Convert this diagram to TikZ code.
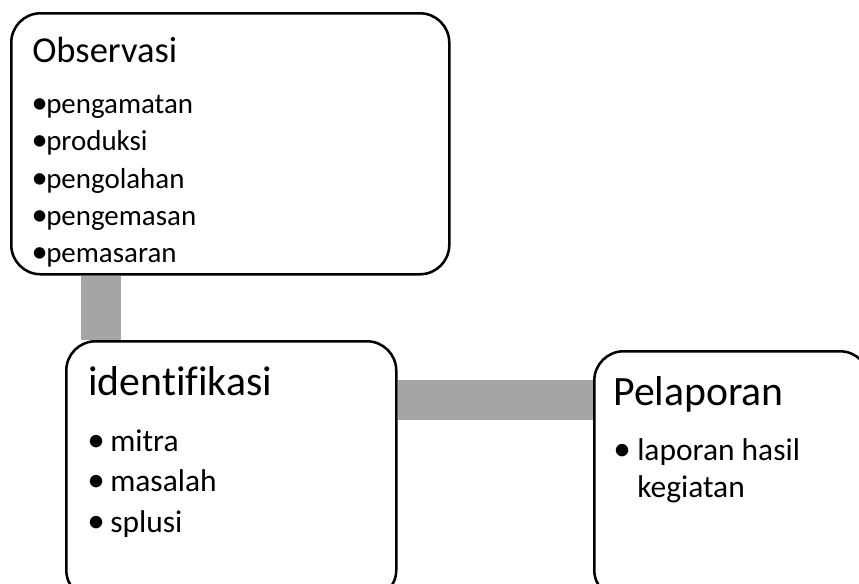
\documentclass[tikz,border=0pt]{standalone}
\usepackage{fontspec}
\setmainfont{Carlito}[Ligatures=NoCommon]
\usetikzlibrary{backgrounds}
\definecolor{bargray}{HTML}{A5A5A5}
\newcommand{\mybul}{\hspace*{-0.06em}\raisebox{-0.02em}{\scalebox{1.12}{•}}}
\begin{document}
\begin{tikzpicture}[x=0.75pt,y=-0.75pt,
  box/.style={draw=black, line width=1.9pt, rounded corners=22pt, fill=white, inner sep=0pt, anchor=north west},
  bar/.style={draw=bargray, line width=30pt},
  txt/.style={anchor=base west, inner sep=0pt},
  ttl/.style={txt, font=\fontsize{27.4}{33}\selectfont},
  ttlb/.style={txt, font=\fontsize{31.3}{37}\selectfont},
  itA/.style={txt, font=\fontsize{21.7}{26}\selectfont},
  itB/.style={txt, font=\fontsize{23.6}{28}\selectfont}]
\useasboundingbox (0,0) rectangle (859,583);
\clip (0,0) rectangle (859,583);
\coordinate (bx) at (101,0);
\coordinate (by) at (0,400);
% boxes
\node[box, minimum width=328.5pt, minimum height=195.75pt] (obs) at (10,12) {};
\node[box, minimum width=247.5pt, minimum height=193.5pt] (ide) at (65,340) {};
\node[box, minimum width=206.25pt, minimum height=186pt] (pel) at (593,350) {};
% connectors
\begin{pgfonlayer}{background}
\draw[bar] (obs.south -| bx) -- (ide.north -| bx);
\draw[bar] (ide.east |- by) -- (pel.west |- by);
\end{pgfonlayer}
% texts box 1
\node[ttl] (obsT) at (32,62) {Observasi};
\node[itA] (o1) at (33,113) {\makebox[9.75pt][l]{\mybul}pengamatan};
\node[itA] (o2) at (33,150) {\makebox[9.75pt][l]{\mybul}produksi};
\node[itA] (o3) at (33,188) {\makebox[9.75pt][l]{\mybul}pengolahan};
\node[itA] (o4) at (33,225) {\makebox[9.75pt][l]{\mybul}pengemasan};
\node[itA] (o5) at (33,262) {\makebox[9.75pt][l]{\mybul}pemasaran};
% texts box 2
\node[ttlb] (ideT) at (88,395) {identifikasi};
\node[itB] (i1) at (89,451) {\makebox[15.75pt][l]{\mybul}mitra};
\node[itB] (i2) at (89,491) {\makebox[15.75pt][l]{\mybul}masalah};
\node[itB] (i3) at (89,532) {\makebox[15.75pt][l]{\mybul}splusi};
% texts box 3
\node[ttlb] (pelT) at (613,405) {Pelaporan};
\node[itB] (p1) at (615,460) {\makebox[16.5pt][l]{\mybul}laporan hasil};
\node[itB] (p2) at (637,497) {kegiatan};
\end{tikzpicture}
\end{document}
